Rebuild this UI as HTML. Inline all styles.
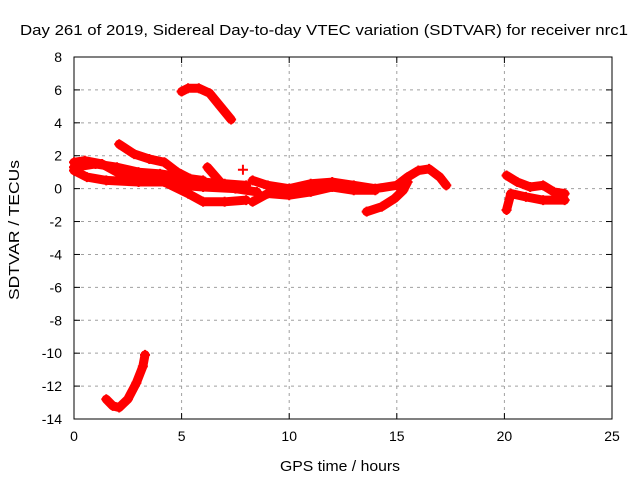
<!DOCTYPE html>
<html><head><meta charset="utf-8"><style>
html,body{margin:0;padding:0;background:#fff}
svg{display:block;font-family:"Liberation Sans",sans-serif;font-size:14px}
</style></head><body>
<svg id="c" width="640" height="480">
<rect width="640" height="480" fill="#fff"/>
<text x="20" y="35" textLength="608" lengthAdjust="spacingAndGlyphs" style="font-size:15px">Day 261 of 2019, Sidereal Day-to-day VTEC variation (SDTVAR) for receiver nrc1</text>
<text x="280" y="471" textLength="120" lengthAdjust="spacingAndGlyphs" style="font-size:15px">GPS time / hours</text>
<text transform="translate(19,300) rotate(-90)" textLength="140" lengthAdjust="spacingAndGlyphs" style="font-size:15px">SDTVAR / TECUs</text>
<g id="grid"></g><g id="axes"></g><g id="marks"></g>
</svg>
<script>
const xTicks=[0,5,10,15,20,25];
const yTicks=[8,6,4,2,0,-2,-4,-6,-8,-10,-12,-14];
const trackTop=[[5,5.9],[5.3,6.1],[5.8,6.1],[6.3,5.8],[6.8,5.0],[7.3,4.2]];
const trackBottom=[[1.5,-12.8],[1.8,-13.2],[2.1,-13.3],[2.5,-12.8],[2.9,-11.8],[3.2,-10.8],[3.3,-10.1]];
const trackC=[[2.1,2.7],[2.8,2.1],[3.5,1.8],[4.2,1.6],[4.8,1.0],[5.4,0.6],[6.0,0.5]];
const trackD=[[0,1.6],[0.5,1.7],[1.3,1.5],[2,1.0],[3,0.8],[4,0.5],[5,0.2],[6,0.1],[7.5,0.0],[8.5,-0.2]];
const trackE=[[0,1.1],[0.6,0.7],[1.5,0.5],[3,0.4],[4.2,0.4],[5.3,-0.3],[6,-0.8],[7,-0.8],[8,-0.7]];
const trackF=[[0,1.3],[1,1.5],[2,1.3],[3,1.0],[4,0.9],[5,0.7],[6,0.4],[7,0.3],[8,0.2]];
const trackG=[[6.2,1.3],[6.8,0.4]];
const trackH=[[8.3,0.5],[9,0.2],[10,0],[11,0.3],[12,0.4],[13,0.2],[14,0],[15,0.2],[15.5,0.7],[16,1.1],[16.5,1.2],[17,0.7],[17.3,0.2]];
const trackI=[[8.3,-0.8],[9,-0.3],[10,-0.4],[11,-0.2],[12,0.1],[13,-0.1],[14,-0.1]];
const trackJ=[[13.6,-1.4],[14.3,-1.1],[14.9,-0.6],[15.3,-0.1],[15.5,0.4]];
const trackK=[[20.1,0.8],[20.6,0.4],[21.2,0.1],[21.8,0.2],[22.3,-0.2],[22.8,-0.3]];
const trackL=[[20.1,-1.3],[20.3,-0.3],[21,-0.5],[21.8,-0.7],[22.8,-0.7]];
const trackM=[[7.85,1.15]];
const tracks=[trackTop,trackBottom,trackC,trackD,trackE,trackF,trackG,trackH,trackI,trackJ,trackK,trackL,trackM];

const X0=74,X1=612,Y0=419,Y1=57;
const xs=t=>X0+(t-0)/(25-0)*(X1-X0);
const ys=v=>Y0-(v+14)/(8+14)*(Y0-Y1);
const NS="http://www.w3.org/2000/svg";
function mk(tag,attrs,parent){const e=document.createElementNS(NS,tag);for(const k in attrs)e.setAttribute(k,attrs[k]);parent.appendChild(e);return e;}
const grid=document.getElementById('grid'),axes=document.getElementById('axes'),marks=document.getElementById('marks');
xTicks.forEach(t=>{
  const x=xs(t);
  if(t>0&&t<25){const g=mk('line',{x1:x,y1:Y1,x2:x,y2:Y0,stroke:'#a0a0a0','stroke-dasharray':'3,4'},grid);
  
  }
  mk('line',{x1:x,y1:Y0,x2:x,y2:Y0-6,stroke:'#000'},axes);
  mk('line',{x1:x,y1:Y1,x2:x,y2:Y1+6,stroke:'#000'},axes);
  const l=mk('text',{x:x,y:Y0+22,'text-anchor':'middle'},axes);l.textContent=t;
  
  
});
yTicks.forEach(v=>{
  const y=ys(v);
  if(v>-14&&v<8){const g=mk('line',{x1:X0,y1:y,x2:X1,y2:y,stroke:'#a0a0a0','stroke-dasharray':'3,4'},grid);
  
  }
  mk('line',{x1:X0,y1:y,x2:X0+6,y2:y,stroke:'#000'},axes);
  mk('line',{x1:X1,y1:y,x2:X1-6,y2:y,stroke:'#000'},axes);
  const l=mk('text',{x:X0-12,y:y+5,'text-anchor':'end'},axes);l.textContent=v;
  
  
});
const fr=mk('rect',{x:X0,y:Y1,width:X1-X0,height:Y0-Y1,fill:'none',stroke:'#000'},axes);


tracks.forEach((tr,i)=>{
  const pts=tr.map(p=>xs(p[0])+','+ys(p[1])).join(' ');
  const pl=mk('polyline',{points:pts,fill:'none',stroke:'#ff0000','stroke-width':9,'stroke-linejoin':'round','stroke-linecap':'round'},marks);
  
  
  tr.forEach(p=>{
    const x=xs(p[0]),y=ys(p[1]);
    const m=mk('path',{d:`M${x-5},${y}H${x+5}M${x},${y-5}V${y+5}`,stroke:'#ff0000','stroke-width':2},marks);
    
    
  });
});
</script>
</body></html>
